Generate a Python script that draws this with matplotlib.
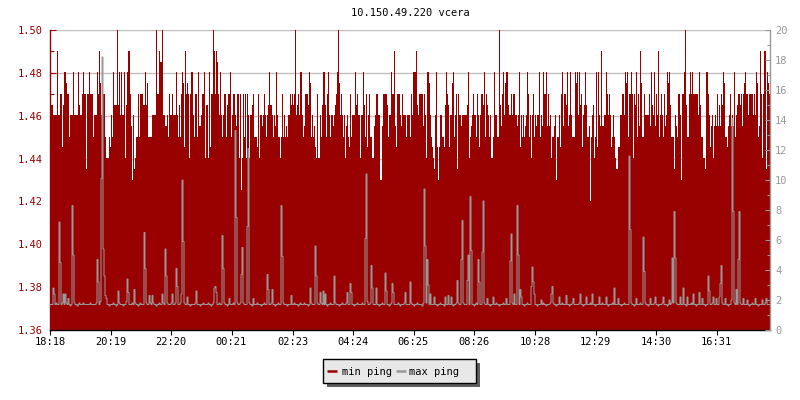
import numpy as np
import matplotlib
matplotlib.use("Agg")
import matplotlib.pyplot as plt
from matplotlib.patches import Rectangle
from matplotlib.lines import Line2D
from matplotlib.ticker import MultipleLocator, FormatStrFormatter, FixedLocator

title = "10.150.49.220 vcera"
x_labels = ["18:18", "20:19", "22:20", "00:21", "02:23", "04:24",
            "06:25", "08:26", "10:28", "12:29", "14:30", "16:31"]
legend_labels = ["min ping", "max ping"]

# min ping (ms, left axis), one value per 2 minutes
min_ping = [
    1.465,1.465,1.465,1.46,1.46,1.46,1.46,1.49,1.46,1.46,1.47,1.47,1.445,1.465,1.48,1.48,1.475,1.47,1.47,1.45,1.46,1.46,1.46,1.48,
    1.46,1.46,1.46,1.46,1.48,1.465,1.46,1.46,1.47,1.48,1.47,1.47,1.435,1.47,1.47,1.48,1.47,1.47,1.47,1.45,1.46,1.46,1.46,1.48,
    1.47,1.49,1.475,1.46,1.46,1.47,1.47,1.45,1.44,1.44,1.44,1.45,1.445,1.46,1.45,1.48,1.465,1.465,1.465,1.50,1.465,1.48,1.46,1.48,
    1.46,1.46,1.48,1.44,1.465,1.48,1.49,1.49,1.47,1.455,1.43,1.46,1.435,1.44,1.45,1.45,1.47,1.45,1.47,1.47,1.47,1.465,1.465,1.48,
    1.465,1.475,1.45,1.45,1.45,1.45,1.46,1.46,1.46,1.46,1.50,1.47,1.47,1.49,1.485,1.485,1.50,1.46,1.46,1.455,1.455,1.46,1.45,1.47,
    1.46,1.46,1.47,1.46,1.46,1.46,1.48,1.46,1.45,1.465,1.45,1.47,1.48,1.475,1.445,1.49,1.47,1.475,1.47,1.44,1.47,1.48,1.48,1.46,
    1.45,1.47,1.47,1.45,1.48,1.455,1.455,1.46,1.47,1.47,1.48,1.44,1.465,1.465,1.44,1.48,1.445,1.47,1.47,1.50,1.49,1.47,1.49,1.485,
    1.47,1.46,1.48,1.46,1.45,1.46,1.47,1.47,1.45,1.465,1.47,1.47,1.48,1.45,1.46,1.47,1.47,1.46,1.455,1.47,1.47,1.44,1.47,1.425,
    1.44,1.47,1.45,1.47,1.44,1.47,1.46,1.44,1.46,1.46,1.465,1.47,1.45,1.45,1.45,1.445,1.47,1.44,1.46,1.46,1.455,1.46,1.47,1.46,
    1.45,1.46,1.465,1.48,1.465,1.465,1.46,1.45,1.46,1.455,1.48,1.46,1.45,1.45,1.44,1.45,1.47,1.45,1.46,1.45,1.455,1.45,1.46,1.46,
    1.47,1.465,1.47,1.465,1.47,1.50,1.46,1.465,1.47,1.46,1.48,1.48,1.46,1.45,1.455,1.47,1.47,1.47,1.465,1.48,1.475,1.45,1.46,1.45,
    1.455,1.445,1.44,1.47,1.44,1.44,1.46,1.45,1.465,1.48,1.48,1.465,1.45,1.47,1.48,1.46,1.45,1.46,1.46,1.455,1.46,1.465,1.47,1.48,
    1.50,1.475,1.46,1.47,1.46,1.45,1.46,1.44,1.455,1.46,1.45,1.445,1.47,1.45,1.46,1.46,1.46,1.48,1.465,1.47,1.46,1.46,1.44,1.46,
    1.46,1.48,1.465,1.45,1.47,1.445,1.46,1.47,1.45,1.45,1.44,1.44,1.455,1.46,1.47,1.47,1.46,1.46,1.43,1.43,1.455,1.47,1.47,1.47,
    1.47,1.465,1.45,1.46,1.46,1.48,1.47,1.47,1.49,1.455,1.445,1.47,1.47,1.47,1.46,1.455,1.47,1.46,1.46,1.46,1.45,1.46,1.46,1.46,
    1.45,1.47,1.46,1.48,1.48,1.48,1.49,1.465,1.46,1.47,1.47,1.47,1.47,1.455,1.47,1.46,1.44,1.48,1.48,1.475,1.46,1.45,1.445,1.44,
    1.435,1.46,1.48,1.445,1.43,1.445,1.46,1.46,1.45,1.45,1.445,1.465,1.48,1.47,1.465,1.445,1.46,1.46,1.475,1.48,1.45,1.46,1.47,1.435,
    1.47,1.46,1.46,1.455,1.46,1.46,1.46,1.46,1.46,1.465,1.48,1.44,1.45,1.455,1.46,1.47,1.46,1.46,1.45,1.47,1.46,1.445,1.46,1.47,
    1.47,1.465,1.48,1.45,1.47,1.465,1.46,1.45,1.46,1.44,1.44,1.45,1.48,1.46,1.46,1.45,1.45,1.50,1.465,1.455,1.47,1.48,1.46,1.475,
    1.48,1.48,1.465,1.46,1.46,1.47,1.46,1.47,1.47,1.46,1.46,1.455,1.46,1.48,1.445,1.46,1.45,1.46,1.45,1.455,1.46,1.48,1.47,1.45,
    1.46,1.44,1.46,1.47,1.45,1.46,1.455,1.46,1.46,1.48,1.45,1.46,1.455,1.48,1.47,1.47,1.48,1.455,1.47,1.455,1.46,1.44,1.45,1.45,
    1.455,1.46,1.43,1.45,1.45,1.46,1.445,1.47,1.48,1.455,1.47,1.47,1.465,1.48,1.455,1.46,1.48,1.46,1.45,1.45,1.45,1.48,1.475,1.48,
    1.46,1.48,1.465,1.47,1.445,1.46,1.465,1.48,1.465,1.45,1.45,1.455,1.42,1.45,1.46,1.465,1.44,1.45,1.48,1.445,1.48,1.46,1.455,1.49,
    1.455,1.455,1.46,1.46,1.48,1.47,1.46,1.47,1.46,1.445,1.45,1.46,1.45,1.44,1.435,1.435,1.445,1.445,1.46,1.46,1.47,1.47,1.46,1.48,
    1.475,1.48,1.45,1.47,1.47,1.48,1.47,1.44,1.47,1.465,1.48,1.45,1.47,1.455,1.49,1.475,1.45,1.45,1.47,1.46,1.46,1.46,1.46,1.47,
    1.455,1.48,1.465,1.46,1.48,1.455,1.47,1.46,1.49,1.45,1.46,1.47,1.46,1.45,1.47,1.455,1.46,1.48,1.475,1.48,1.465,1.45,1.45,1.45,
    1.435,1.46,1.455,1.45,1.47,1.47,1.46,1.43,1.47,1.47,1.48,1.50,1.465,1.45,1.45,1.47,1.48,1.47,1.48,1.47,1.47,1.47,1.47,1.47,
    1.46,1.48,1.465,1.45,1.45,1.44,1.44,1.435,1.48,1.48,1.47,1.46,1.445,1.455,1.46,1.44,1.455,1.46,1.455,1.47,1.455,1.465,1.455,1.47,
    1.465,1.48,1.475,1.45,1.45,1.445,1.455,1.46,1.47,1.455,1.46,1.455,1.48,1.45,1.46,1.465,1.47,1.47,1.465,1.47,1.455,1.47,1.475,1.48,
    1.47,1.47,1.46,1.47,1.47,1.47,1.47,1.46,1.47,1.46,1.48,1.475,1.45,1.455,1.49,1.47,1.44,1.47,1.49,1.49,1.435,1.48,1.475,1.47,
]

# max ping (ms, right axis)
max_ping = [
    1.7,1.7,1.7,2.8,2.4,1.7,1.8,1.7,1.7,7.2,4.5,1.7,1.8,2.4,1.7,2.4,1.8,1.7,2.1,1.7,1.6,1.7,8.3,5.0,
    1.8,1.7,1.7,1.6,1.7,1.8,1.7,1.7,1.7,1.8,1.7,1.7,1.7,1.7,1.7,1.7,1.8,1.7,1.7,1.7,1.7,1.7,1.8,4.7,
    3.2,1.7,1.9,10.1,18.2,5.4,3.6,2.3,2.1,1.7,1.7,1.6,1.7,1.7,1.7,1.8,1.7,1.7,1.6,1.7,2.6,1.8,1.7,1.7,
    1.7,1.6,1.7,1.7,1.9,3.4,2.5,1.7,1.7,1.7,1.8,1.7,2.7,1.8,1.7,1.7,1.6,1.7,1.8,1.7,1.7,1.7,6.5,4.1,
    1.8,1.7,1.7,2.3,1.8,1.7,2.3,1.8,1.7,1.7,1.6,1.7,1.7,1.8,1.7,1.7,2.4,1.8,1.7,5.4,3.6,1.8,1.7,1.7,
    1.7,1.8,2.4,1.7,1.7,1.8,4.1,2.9,1.7,1.7,1.8,2.4,10.0,5.9,1.8,1.7,1.7,2.2,1.7,1.7,1.6,1.7,1.7,1.7,
    1.7,1.8,2.6,1.7,1.7,1.7,1.6,1.7,1.7,1.8,1.7,1.7,1.7,1.7,1.8,1.7,1.7,1.6,1.7,1.8,2.8,2.9,2.5,1.7,
    1.7,1.8,1.7,1.7,6.3,4.1,1.8,1.7,1.7,1.6,1.7,2.1,1.7,1.7,1.7,1.8,1.7,13.3,7.5,1.8,1.7,1.7,1.8,3.7,
    5.5,1.8,1.7,1.7,1.7,6.9,12.1,1.8,1.7,1.7,1.6,2.1,1.7,1.7,1.7,1.8,1.7,1.7,1.7,1.6,1.7,1.7,1.8,1.7,
    1.7,3.7,2.7,1.7,1.7,1.8,2.7,1.7,1.7,1.6,1.7,1.7,1.8,1.7,1.7,8.3,4.9,1.8,1.7,1.7,1.7,1.6,1.7,1.7,
    1.7,2.3,1.7,1.7,1.8,1.7,1.7,1.7,1.6,1.7,1.8,1.7,1.7,1.7,1.8,1.7,1.7,1.7,1.6,1.7,2.8,1.8,1.7,1.7,
    1.7,5.6,3.6,1.8,1.7,1.7,2.5,1.8,1.7,2.6,1.7,2.4,1.7,1.6,1.7,1.7,1.8,1.7,1.7,1.7,3.6,1.8,1.7,1.7,
    1.7,1.6,1.7,1.7,1.8,1.7,1.7,1.7,1.8,2.5,1.7,1.7,3.1,2.5,1.7,1.7,1.6,1.7,1.7,1.8,1.7,1.7,1.7,1.7,
    1.8,1.7,1.7,6.1,10.4,1.9,1.7,1.7,1.8,4.3,2.8,1.7,1.7,1.7,2.8,1.7,1.7,1.6,1.7,1.7,1.8,1.7,1.7,3.8,
    2.6,1.7,1.7,1.6,1.7,1.8,3.1,2.5,1.7,1.7,1.7,1.7,1.8,1.7,1.6,1.7,1.7,1.7,1.8,2.5,1.7,1.7,1.7,1.7,
    3.2,1.8,1.7,1.7,1.6,1.7,1.7,1.8,1.7,1.7,1.7,1.7,1.6,1.8,9.4,5.6,1.8,4.7,3.0,1.7,2.4,1.7,1.7,1.7,
    2.2,1.7,1.7,1.6,1.7,1.7,1.8,1.7,1.7,1.7,1.6,2.2,1.7,1.7,2.3,1.7,1.7,2.2,1.7,1.6,1.7,1.7,1.8,3.3,
    1.8,1.7,1.7,4.7,7.3,1.8,1.7,1.7,1.7,3.3,5.0,1.7,8.9,5.3,1.7,1.7,1.6,1.7,1.8,1.7,4.7,3.2,1.7,1.7,
    5.2,8.6,1.8,1.7,1.7,2.1,1.7,1.7,1.6,1.7,1.7,2.2,1.7,1.7,1.8,1.7,1.7,1.6,1.7,1.7,1.7,1.8,1.7,1.7,
    2.1,1.7,1.7,1.7,4.6,6.4,1.8,1.7,2.4,1.7,1.7,8.3,5.0,1.7,2.7,2.2,1.7,1.7,1.6,1.7,1.7,1.8,1.7,1.7,
    1.7,2.9,4.2,3.2,2.4,1.7,1.7,1.6,1.7,1.7,1.7,2.0,1.7,1.8,1.7,1.7,1.6,1.7,1.7,1.7,1.8,2.4,2.9,1.8,
    1.7,1.7,1.6,1.7,1.7,2.2,1.7,1.7,1.8,1.7,1.7,1.7,2.3,1.7,1.7,1.6,1.7,1.7,1.8,2.1,1.7,1.7,1.7,1.7,
    1.7,1.8,2.4,1.7,1.7,1.6,1.7,1.7,2.2,1.7,1.7,1.7,1.8,1.7,2.4,1.7,1.7,1.6,1.7,1.7,1.7,2.2,1.7,1.7,
    1.8,1.7,1.7,1.7,2.2,1.7,1.6,1.7,1.7,1.7,1.8,1.7,2.8,1.7,1.7,1.7,2.1,1.7,1.7,1.6,1.7,1.7,1.8,1.7,
    1.7,1.7,1.7,11.6,6.7,1.8,1.7,1.7,1.6,1.7,2.1,1.7,1.7,1.7,1.8,1.7,1.7,6.2,3.9,1.8,1.7,1.7,1.6,1.7,
    2.1,1.7,1.7,1.7,1.8,2.2,1.7,1.7,1.6,1.7,1.7,1.7,1.8,2.2,1.7,1.7,1.7,1.6,1.7,2.0,1.7,1.8,4.8,1.8,
    7.9,4.8,1.8,1.7,1.7,1.7,2.2,1.7,1.7,2.8,1.7,1.7,1.6,2.2,1.7,1.7,1.7,1.8,1.7,2.4,1.7,1.7,1.6,1.7,
    1.7,2.5,1.7,1.7,2.1,1.7,1.7,1.6,1.7,1.7,3.6,2.6,1.7,1.7,1.8,2.2,1.7,1.7,2.1,1.7,1.7,2.2,3.1,4.3,
    1.8,1.7,1.7,2.1,1.7,1.7,1.6,1.7,1.7,2.0,14.1,7.9,1.8,1.7,2.7,1.7,4.7,7.9,1.8,1.7,1.7,2.1,1.7,1.7,
    1.7,2.0,1.7,1.6,1.7,1.7,1.8,1.7,1.7,2.1,1.7,1.7,1.6,1.7,1.7,1.7,2.0,1.7,1.7,1.8,2.1,1.7,1.7,1.7,
]

RED = "#990000"
GRAY = "#999999"
FS = 7.5
plt.rcParams['font.family'] = ['DejaVu Sans Mono', 'DejaVu Sans']

W, H = 800, 400
fig = plt.figure(figsize=(W / 100, H / 100), dpi=100)
fig.patch.set_facecolor("white")


def fx(px):
    return px / W


def fy(py):
    return 1 - py / H


ax = fig.add_axes([fx(50), fy(330), 720 / W, 300 / H])
span = 1440.0
e1 = np.linspace(0, span, len(min_ping) + 1)
e2 = np.linspace(0, span, len(max_ping) + 1)

ax.stairs(min_ping, e1, baseline=1.36, fill=True, color=RED,
          antialiased=False, zorder=2, lw=0)
ax.set_xlim(0, span)
ax.set_ylim(1.36, 1.50)
ax.yaxis.set_major_locator(MultipleLocator(0.02))
ax.yaxis.set_minor_locator(MultipleLocator(0.01))
ax.yaxis.set_major_formatter(FormatStrFormatter('%.2f'))
ax.grid(axis='y', which='major', color='#c0c0c0', lw=1, zorder=0)
ax.set_axisbelow(True)
ax.tick_params(axis='y', which='both', direction='in', color=RED,
               labelcolor=RED, labelsize=FS, pad=5)
ax.tick_params(axis='y', which='major', length=4.3, width=0.8)
ax.tick_params(axis='y', which='minor', length=3.0, width=0.8)


def to_min(lbl):
    h, m = map(int, lbl.split(':'))
    t = h * 60 + m
    t0 = int(x_labels[0][:2]) * 60 + int(x_labels[0][3:])
    return (t - t0) % 1440


ax.xaxis.set_major_locator(FixedLocator([to_min(l) for l in x_labels]))
ax.set_xticklabels(x_labels)
ax.tick_params(axis='x', direction='out', length=3.6, width=0.8, color='black',
               labelcolor='black', labelsize=FS, pad=1.5)
ax.spines['left'].set_color(RED)
ax.spines['left'].set_linewidth(1.0)
ax.spines['bottom'].set_color('black')
ax.spines['bottom'].set_linewidth(1.0)
ax.spines['top'].set_visible(False)
ax.spines['right'].set_visible(False)

ax2 = ax.twinx()
ax2.stairs(max_ping, e2, baseline=None, fill=False, color=GRAY, lw=0.72,
           antialiased=True, zorder=3)
ax2.set_ylim(0, 20)
ax2.yaxis.set_major_locator(MultipleLocator(2))
ax2.yaxis.set_minor_locator(MultipleLocator(1))
ax2.tick_params(axis='y', which='both', direction='in', color=GRAY,
                labelcolor=GRAY, labelsize=FS, pad=3.6)
ax2.tick_params(axis='y', which='major', length=3.6, width=0.8)
ax2.tick_params(axis='y', which='minor', length=2.0, width=0.8)
for s in ['left', 'top', 'bottom']:
    ax2.spines[s].set_visible(False)
ax2.spines['right'].set_color(GRAY)
ax2.spines['right'].set_linewidth(1.0)

fig.text(fx(410), fy(13), title, ha='center', va='center', fontsize=FS,
         color='black')

# legend box (shadow + frame)
lx0, ly0, lx1, ly1 = 322.7, 359.3, 476.0, 383.3
sh = 4.0
fig.add_artist(Rectangle((fx(lx0 + sh), fy(ly1 + sh)), (lx1 - lx0) / W,
                         (ly1 - ly0) / H, transform=fig.transFigure,
                         facecolor='#606060', edgecolor='none', zorder=5))
fig.add_artist(Rectangle((fx(lx0), fy(ly1)), (lx1 - lx0) / W,
                         (ly1 - ly0) / H, transform=fig.transFigure,
                         facecolor='#e8e8e8', edgecolor='black', lw=1.0,
                         zorder=6))
ymid = 371.3
for (hx0, hx1, tx), col, lab in zip([(327.3, 337.3, 341.7),
                                     (395.7, 406.0, 409.3)],
                                    [RED, GRAY], legend_labels):
    fig.add_artist(Line2D([fx(hx0), fx(hx1)], [fy(ymid), fy(ymid)],
                          transform=fig.transFigure, color=col, lw=1.8,
                          solid_capstyle='butt', zorder=7))
    fig.text(fx(tx), fy(ymid), lab, ha='left', va='center_baseline',
             fontsize=FS, color='black', zorder=7)

fig.savefig("out.png", dpi=100, facecolor='white')
